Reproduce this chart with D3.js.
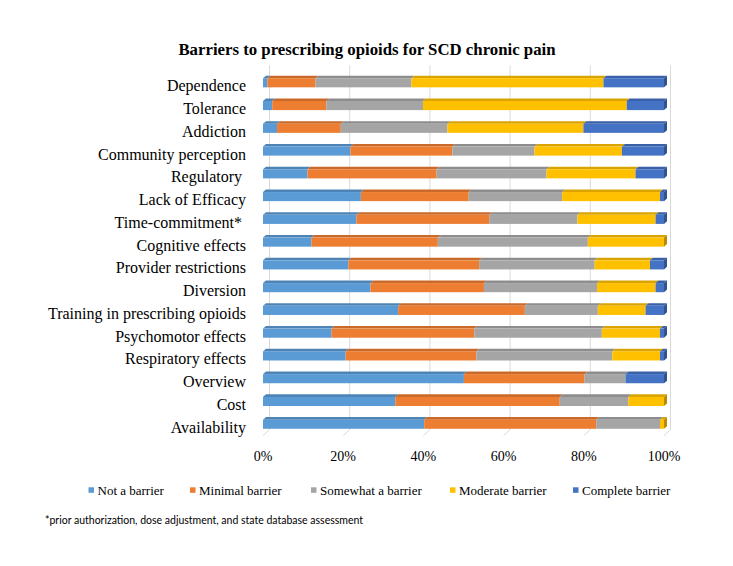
<!DOCTYPE html>
<html>
<head>
<meta charset="utf-8">
<script src="https://cdn.jsdelivr.net/npm/d3@7"></script>
<style>
  html, body { margin: 0; padding: 0; background: #ffffff; }
  svg { display: block; }
  text { white-space: pre; }
</style>
</head>
<body>
<svg id="chart" width="733" height="566"></svg>
<script>
const categories = [
  "Dependence", "Tolerance", "Addiction", "Community perception", "Regulatory ",
  "Lack of Efficacy", "Time-commitment* ", "Cognitive effects", "Provider restrictions",
  "Diversion", "Training in prescribing opioids", "Psychomotor effects",
  "Respiratory effects", "Overview", "Cost", "Availability"
];
const seriesNames = ["Not a barrier", "Minimal barrier", "Somewhat a barrier", "Moderate barrier", "Complete barrier"];
const notABarrier     = [1.1, 2.3, 3.5, 21.8, 11.1, 24.4, 23.3, 12.1, 21.3, 26.8, 33.7, 17.1, 20.6, 50.1, 33.0, 40.2];
const minimalBarrier  = [12.0, 13.5, 15.9, 25.4, 32.2, 26.9, 33.1, 31.5, 32.6, 28.3, 31.6, 35.6, 32.6, 30.1, 41.0, 42.9];
const somewhatBarrier = [23.9, 24.1, 26.6, 20.5, 27.4, 23.3, 22.0, 37.4, 28.8, 28.2, 18.2, 31.8, 33.9, 10.2, 17.1, 15.9];
const moderateBarrier = [47.9, 50.8, 33.9, 21.8, 22.2, 24.4, 19.5, 19.0, 13.8, 14.6, 11.9, 14.5, 11.9, 0.0, 8.9, 1.0];
const completeBarrier = [15.1, 9.3, 20.1, 10.5, 7.1, 1.0, 2.1, 0.0, 3.5, 2.1, 4.6, 1.0, 1.0, 9.6, 0.0, 0.0];
const tickValues = [0, 20, 40, 60, 80, 100];
const tickLabels = ["0%", "20%", "40%", "60%", "80%", "100%"];
const colors = ["#5B9BD5", "#ED7D31", "#A5A5A5", "#FFC000", "#4472C4"];
const title = "Barriers to prescribing opioids for SCD chronic pain";
const footnote = "*prior authorization, dose adjustment, and state database assessment";

const seriesArrays = [notABarrier, minimalBarrier, somewhatBarrier, moderateBarrier, completeBarrier];
const rows = categories.map((c, i) => {
  const r = { cat: c };
  seriesNames.forEach((s, j) => r[s] = seriesArrays[j][i]);
  return r;
});
const stacked = d3.stack().keys(seriesNames)(rows);

const svg = d3.select("#chart");
const serif = "'Liberation Serif', 'Times New Roman', serif";

// geometry
const x = d3.scaleLinear().domain([0, 100]).range([263, 664]);
const y = d3.scaleBand().domain(categories).range([71.4, 435.6]).paddingInner(0.6).paddingOuter(0.3);
const wallDx = 6.5, wallDy = -6;
const barDx = 3, barDy = -2.6;
const floorY = 435.6;

// back wall gridlines
const grid = svg.append("g");
tickValues.forEach(v => {
  grid.append("line")
    .attr("x1", x(v) + wallDx).attr("x2", x(v) + wallDx)
    .attr("y1", 71.4 + wallDy).attr("y2", floorY + wallDy)
    .attr("stroke", "#d9d9d9").attr("stroke-width", 1);
  grid.append("line")
    .attr("x1", x(v)).attr("y1", floorY)
    .attr("x2", x(v) + wallDx).attr("y2", floorY + wallDy)
    .attr("stroke", "#d9d9d9").attr("stroke-width", 1);
});

// bars (3D)
const bh = y.bandwidth();
const barsG = svg.append("g");
stacked.forEach((layer, j) => {
  const col = d3.color(colors[j]);
  const g = barsG.append("g");
  layer.forEach(d => {
    const x0 = x(d[0]), x1 = x(d[1]);
    if (x1 - x0 <= 0.01) return;
    const y0 = y(d.data.cat);
    // top face
    g.append("path")
      .attr("d", `M${x0},${y0} L${x0 + barDx},${y0 + barDy} L${x1 + barDx},${y0 + barDy} L${x1},${y0} Z`)
      .attr("fill", col.darker(0.45));
    // front face
    g.append("rect")
      .attr("x", x0).attr("y", y0).attr("width", x1 - x0).attr("height", bh)
      .attr("fill", col);
    // right side face (only visible at end)
    if (d[1] >= 99.95) {
      g.append("path")
        .attr("d", `M${x1},${y0} L${x1 + barDx},${y0 + barDy} L${x1 + barDx},${y0 + bh + barDy} L${x1},${y0 + bh} Z`)
        .attr("fill", col.darker(0.9));
    }
  });
});

// category labels
svg.append("g").selectAll("text").data(categories).join("text")
  .attr("x", 246)
  .attr("y", d => y(d) + bh / 2 + 8.5)
  .attr("text-anchor", "end")
  .attr("font-family", serif)
  .attr("font-size", 16)
  .attr("fill", "#000")
  .text(d => d);

// x tick labels
svg.append("g").selectAll("text").data(tickValues).join("text")
  .attr("x", v => x(v))
  .attr("y", 460.5)
  .attr("text-anchor", "middle")
  .attr("font-family", serif)
  .attr("font-size", 14)
  .attr("fill", "#000")
  .text((v, i) => tickLabels[i]);

// title
svg.append("text")
  .attr("x", 367).attr("y", 55)
  .attr("text-anchor", "middle")
  .attr("font-family", serif)
  .attr("font-weight", "bold")
  .attr("font-size", 16.8)
  .attr("fill", "#000")
  .text(title);

// legend
const legendX = [88.5, 190, 311, 450, 573];
const legend = svg.append("g");
seriesNames.forEach((s, j) => {
  legend.append("rect")
    .attr("x", legendX[j]).attr("y", 487.3).attr("width", 5.5).attr("height", 5.5)
    .attr("fill", colors[j]);
  legend.append("text")
    .attr("x", legendX[j] + 9).attr("y", 494.5)
    .attr("font-family", serif)
    .attr("font-size", 13)
    .attr("fill", "#000")
    .text(s);
});

// footnote
svg.append("text")
  .attr("x", 45).attr("y", 523.5)
  .attr("font-family", "Lato, 'Liberation Sans', Arial, sans-serif")
  .attr("font-size", 10.5)
  .attr("fill", "#000")
  .text(footnote);
</script>
</body>
</html>
